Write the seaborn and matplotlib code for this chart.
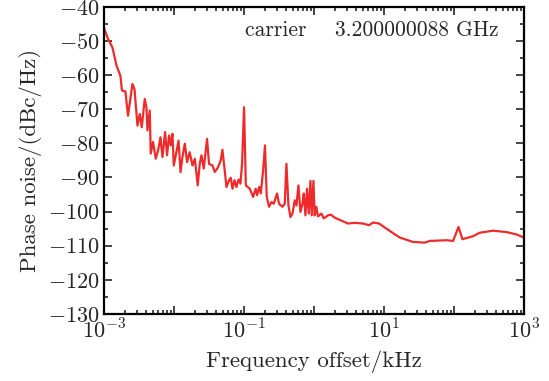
import numpy as np
import pandas as pd
import matplotlib
matplotlib.use("Agg")
import matplotlib.pyplot as plt
import seaborn as sns
from matplotlib.ticker import FixedLocator, FuncFormatter, AutoMinorLocator

# values (kHz, dBc/Hz)
freq_khz = [0.00100, 0.00115, 0.00133, 0.00152, 0.00173, 0.00182, 0.00204, 0.00222,
            0.00257, 0.00275, 0.00303, 0.00327, 0.00349, 0.00385, 0.00407, 0.00421,
            0.00454, 0.00469, 0.00506, 0.00553, 0.00597, 0.00646, 0.00690, 0.00752,
            0.00802, 0.00857, 0.00906, 0.00958, 0.0100, 0.0109, 0.0117, 0.0125,
            0.0133, 0.0144, 0.0155, 0.0169, 0.0185, 0.0200, 0.0220, 0.0235,
            0.0249, 0.0268, 0.0299, 0.0319, 0.0357, 0.0385, 0.0430, 0.0469,
            0.0496, 0.0535, 0.0566, 0.0617, 0.0652, 0.0690, 0.0737, 0.0787,
            0.0840, 0.0897, 0.0946, 0.101, 0.107, 0.122, 0.136, 0.148,
            0.155, 0.166, 0.175, 0.189, 0.201, 0.213, 0.230, 0.249,
            0.268, 0.299, 0.319, 0.357, 0.385, 0.407, 0.435, 0.465,
            0.496, 0.535, 0.566, 0.604, 0.645, 0.690, 0.720, 0.761,
            0.802, 0.849, 0.897, 0.936, 0.990, 1.03, 1.09, 1.15,
            1.29, 1.39, 1.60, 1.75, 2.00, 3.09, 3.85, 5.06,
            6.17, 7.03, 8.57, 10.9, 16.9, 26.2, 38.5, 45.4,
            78.7, 97.8, 117, 133, 189, 235, 364, 566,
            787, 1000]
noise_dbc = [-46.0, -49.4, -51.9, -57.2, -60.2, -64.5, -64.8, -71.9,
             -62.6, -64.1, -74.8, -71.4, -75.3, -67.0, -69.4, -76.2,
             -70.4, -83.0, -79.6, -84.5, -82.1, -78.2, -84.0, -76.7,
             -83.5, -77.7, -80.6, -77.2, -86.5, -82.6, -79.2, -88.4,
             -84.0, -80.1, -85.5, -82.6, -86.5, -84.5, -92.3, -86.0,
             -83.5, -87.4, -78.7, -86.0, -86.5, -88.4, -87.0, -85.0,
             -81.9, -88.0, -92.8, -90.8, -90.1, -93.3, -90.8, -92.8,
             -90.6, -91.8, -86.0, -69.4, -92.3, -93.3, -95.7, -93.3,
             -95.2, -92.8, -94.7, -88.0, -80.6, -95.7, -98.6, -97.2,
             -97.7, -94.7, -97.7, -98.6, -97.7, -86.0, -98.2, -101.6,
             -100.6, -96.7, -98.2, -92.3, -100.1, -97.7, -94.7, -101.1,
             -93.3, -100.6, -91.0, -101.1, -91.0, -101.1, -98.6, -101.4,
             -100.6, -102.0, -101.1, -100.9, -101.8, -103.5, -103.3, -103.5,
             -104.0, -103.2, -103.5, -105.0, -107.6, -108.9, -109.1, -108.6,
             -108.4, -108.6, -104.5, -108.1, -107.2, -106.2, -105.6, -106.0,
             -106.7, -107.6]

y_ticks = [-130, -120, -110, -100, -90, -80, -70, -60, -50, -40]
x_decades = [1e-3, 1e-2, 1e-1, 1e0, 1e1, 1e2, 1e3]
carrier_text = "carrier    3.200000088 GHz"

sns.set_style("ticks")
plt.rcParams["font.family"] = ["cmr10", "DejaVu Serif"]
plt.rcParams["mathtext.fontset"] = "cm"
plt.rcParams["axes.formatter.use_mathtext"] = True
plt.rcParams["axes.unicode_minus"] = True

df = pd.DataFrame({"freq": freq_khz, "noise": noise_dbc})

fig = plt.figure(figsize=(5.49, 3.81), dpi=100)
ax = fig.add_axes([0.189, 0.176, 0.765, 0.806])
sns.lineplot(data=df, x="freq", y="noise", sort=False, estimator=None,
             color="#ee2a2a", linewidth=1.6, ax=ax)

ax.set_xscale("log")
ax.set_xlim(1e-3, 1e3)
ax.set_ylim(-130, -40)

ax.xaxis.set_major_locator(FixedLocator(x_decades))
def dec_label(v, pos):
    e = int(round(np.log10(v)))
    return r"$10^{%d}$" % e if e % 2 != 0 else ""
ax.xaxis.set_major_formatter(FuncFormatter(dec_label))
ax.yaxis.set_major_locator(FixedLocator(y_ticks))
ax.yaxis.set_minor_locator(AutoMinorLocator(2))

ax.tick_params(which="both", direction="in", top=True, right=True, width=1.2, labelsize=16)
ax.tick_params(which="major", length=6, pad=3)
ax.tick_params(which="minor", length=3)
for s in ax.spines.values():
    s.set_linewidth(1.6)
    s.set_color("black")

ax.set_xlabel("Frequency offset/kHz", fontsize=16.5, labelpad=6)
ax.set_ylabel("Phase noise/(dBc/Hz)", fontsize=16.5, labelpad=4)
ax.text(0.336, 0.925, carrier_text, transform=ax.transAxes, fontsize=15.5, va="center", ha="left")

fig.savefig("out.png", dpi=100)
